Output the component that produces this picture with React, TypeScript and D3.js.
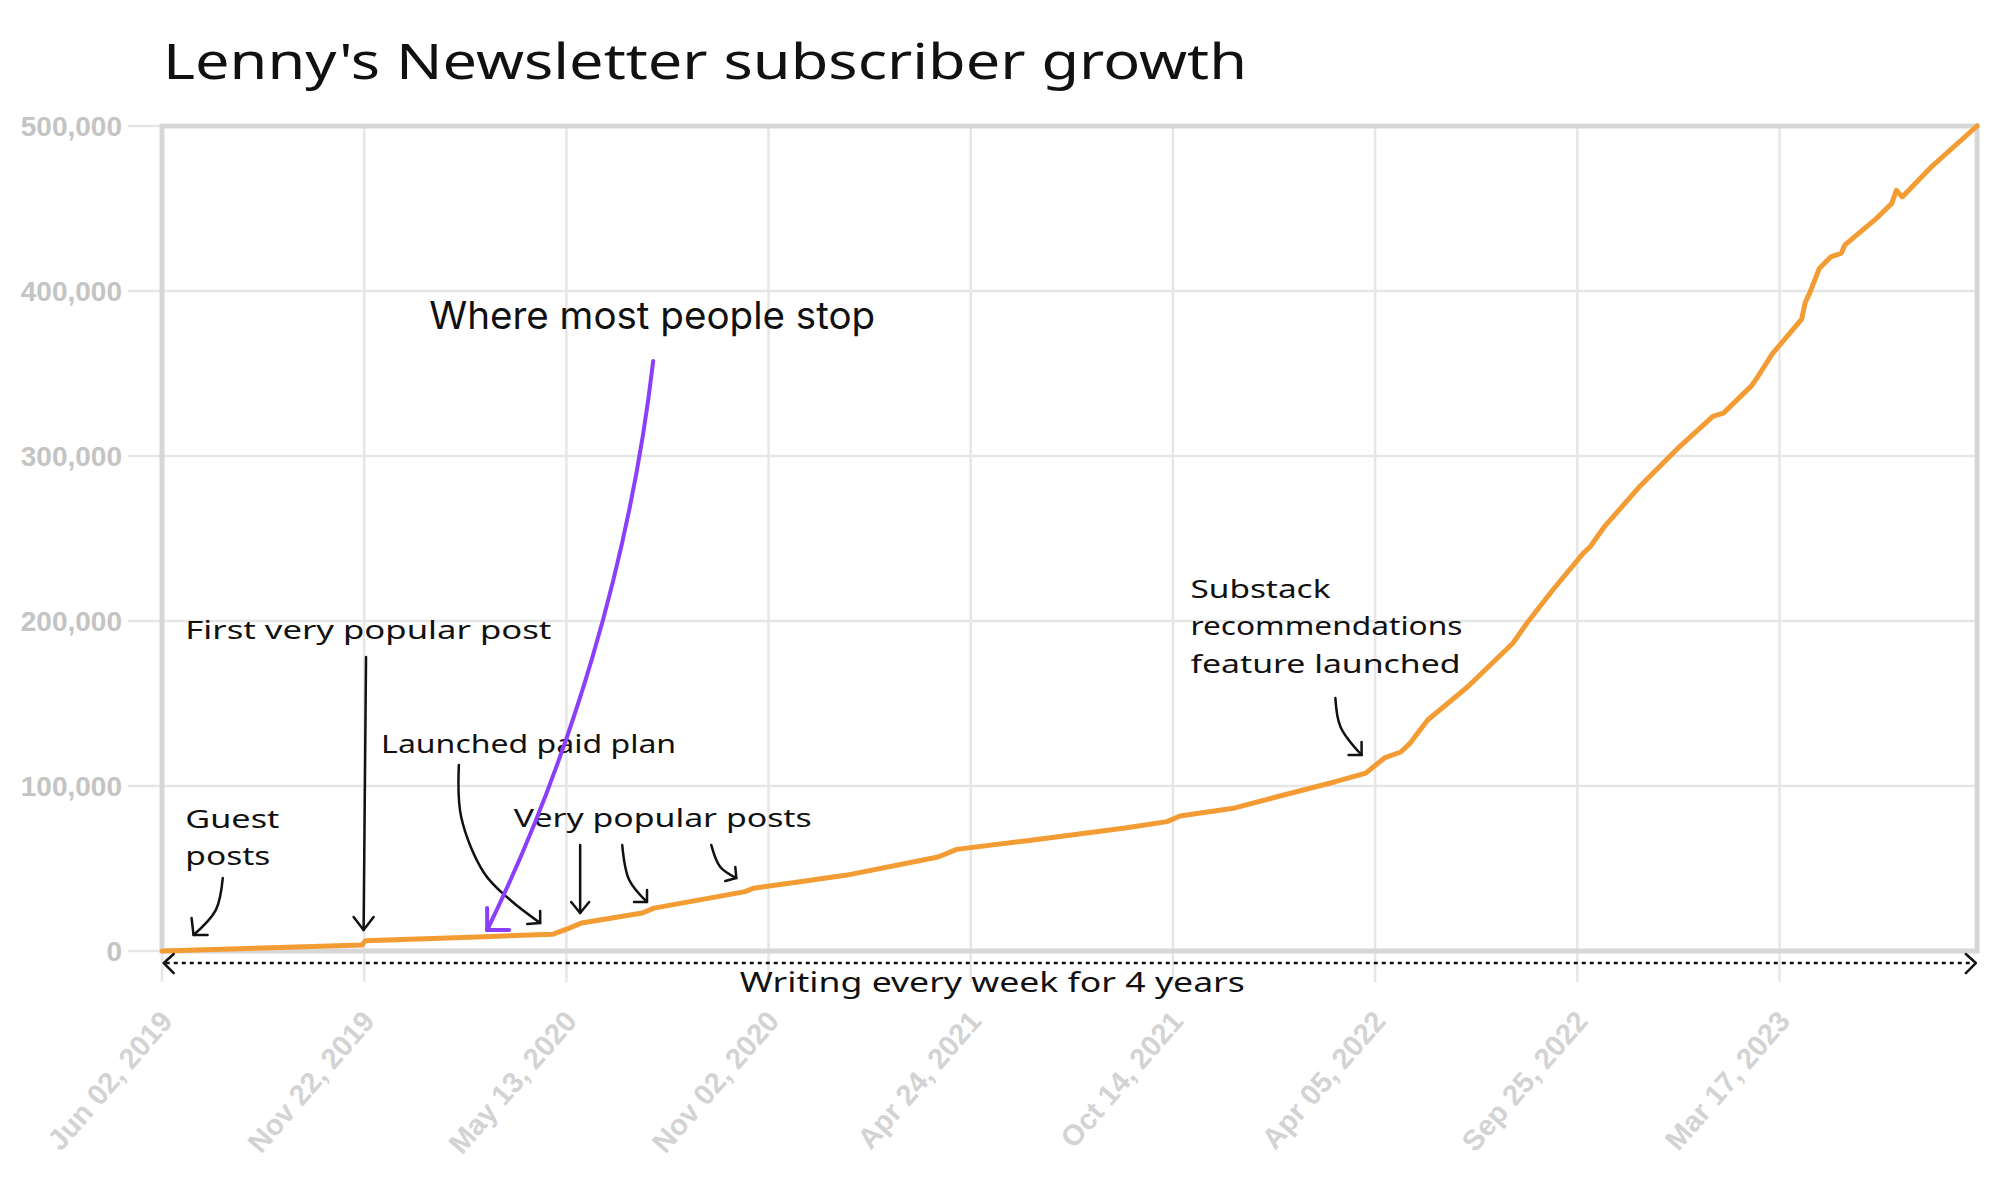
import React from "react";
import * as d3 from "d3";

// ---------- data ----------
const dates = ["2019-06-02","2019-11-20","2019-11-23","2020-03-04","2020-05-01","2020-05-15","2020-05-26","2020-07-17","2020-07-27","2020-10-13","2020-10-20","2020-11-29","2021-01-08","2021-03-27","2021-04-12","2021-06-13","2021-09-03","2021-10-09","2021-10-20","2021-12-06","2022-01-11","2022-03-02","2022-03-28","2022-04-13","2022-04-27","2022-05-05","2022-05-20","2022-06-23","2022-08-01","2022-08-13","2022-09-04","2022-09-30","2022-10-06","2022-10-18","2022-11-18","2022-12-19","2023-01-19","2023-01-28","2023-02-21","2023-02-25","2023-03-11","2023-04-05","2023-04-08","2023-04-12","2023-04-20","2023-04-30","2023-05-09","2023-05-12","2023-06-08","2023-06-21","2023-06-25","2023-06-30","2023-07-24","2023-09-02"];
const subscribers = [0,3600,6200,8700,10100,13700,17000,23000,26000,36000,38000,42000,46000,57000,61600,67000,74500,78400,81800,86700,93500,102600,107800,117000,120600,126000,140000,160000,186700,198800,218800,241000,245000,257000,282000,304000,324000,326000,342500,346500,362000,383000,393000,399000,413600,420700,423000,428000,444000,453000,461000,457000,474600,500000];
const yTickValues = [0, 100000, 200000, 300000, 400000, 500000];
const xTickDates = ["2019-06-02","2019-11-22","2020-05-13","2020-11-02","2021-04-24","2021-10-14","2022-04-05","2022-09-25","2023-03-17"];
const domainStart = "2019-06-02";
const domainEnd = "2023-09-02";

const title = "Lenny's Newsletter subscriber growth";

// annotation anchors in data space: [days since start, subscribers]
const textNotes = [
  { lines: ["Guest", "posts"], day: 20, values: [74500, 52100], widths: [94, 85] },
  { lines: ["First very popular post"], day: 20, values: [189100], widths: [366] },
  { lines: ["Launched paid plan"], day: 187.5, values: [120000], widths: [295] },
  { lines: ["Very popular posts"], day: 301, values: [75200], widths: [298] },
  { lines: ["Substack", "recommendations", "feature launched"], day: 880, values: [213900, 191500, 168500], widths: [140, 272, 270] },
];

const arrowNotes = [
  { pts: [[52, 44200], [46, 24800], [27, 9700]], head: [[-2, -17], [14, 0]] },
  { pts: [[174.6, 178200], [172.5, 12700]], head: [[-10, -13], [10, -13]] },
  { pts: [[254, 112700], [256, 81200], [275.6, 47300], [298, 30900], [323.6, 17000]], head: [[0, -12], [-13, 1]] },
  { pts: [[357.8, 64200], [357.8, 23000]], head: [[-9, -11], [9, -11]] },
  { pts: [[393.8, 64200], [399.8, 43000], [415, 29700]], head: [[0, -12], [-13, 0]] },
  { pts: [[470, 64200], [477.7, 50900], [491.4, 44200]], head: [[-1, -11], [-11, 3]] },
  { pts: [[1004, 153300], [1008.4, 135800], [1026.4, 118800]], head: [[0, -13], [-13, 0]] },
];

const stopNote = { text: "Where most people stop", day: 228.6, value: 377000 };
const stopCurve = [[420.3, 357600], [400.6, 237000], [349.3, 115800], [278.2, 12700]];
const spanNote = { text: "Writing every week for 4 years", startDay: 1.5, endDay: 1552, value: -7300, labelDay: 710.5, labelValue: -24800 };

export default function App() {
  const W = 2000, H = 1190;
  const parse = d3.timeParse("%Y-%m-%d");
  const t0 = parse(domainStart)!;
  const x = d3.scaleTime().domain([t0, parse(domainEnd)!]).range([162, 1977]);
  const y = d3.scaleLinear().domain([0, 500000]).range([951, 126]);
  const dx = (day: number) => x(d3.timeHour.offset(t0, Math.round(day * 24)));
  const fmtDate = d3.timeFormat("%b %d, %Y");
  const fmtNum = d3.format(",");

  const series = dates.map((d, i) => ({ date: parse(d)!, v: subscribers[i] }));
  const line = d3.line<{ date: Date; v: number }>().x(d => x(d.date)).y(d => y(d.v)).curve(d3.curveLinear);

  const annLine = d3.line<number[]>().x(p => dx(p[0])).y(p => y(p[1])).curve(d3.curveCatmullRom.alpha(0.5));

  const hand = "'Comic Sans MS', 'Noto Sans', sans-serif";
  const [x0, x1] = x.range();
  const [yBottom, yTop] = y.range();

  const sc = stopCurve.map(p => [dx(p[0]), y(p[1])]);
  const stopPath = `M${sc[0][0]},${sc[0][1]} C${sc[1][0]},${sc[1][1]} ${sc[2][0]},${sc[2][1]} ${sc[3][0]},${sc[3][1]}`;
  const tip = sc[3];

  const spanY = y(spanNote.value);
  const sx0 = dx(spanNote.startDay), sx1 = dx(spanNote.endDay);

  return (
    <svg width={W} height={H} style={{ position: "absolute", left: 0, top: 0, background: "#fff" }}>
      <rect x={0} y={0} width={W} height={H} fill="#fff" />
      {/* title */}
      <text x={163} y={79} fontFamily={hand} fontSize={50} fill="#111" textLength={1084} lengthAdjust="spacingAndGlyphs">{title}</text>

      {/* horizontal grid */}
      {yTickValues.map(v => (
        <line key={"h" + v} x1={128} x2={x1} y1={y(v)} y2={y(v)} stroke="#e6e6e6" strokeWidth={2.5} />
      ))}
      {/* vertical grid */}
      {xTickDates.map(d => (
        <line key={"v" + d} x1={x(parse(d)!)} x2={x(parse(d)!)} y1={yTop} y2={982} stroke="#e6e6e6" strokeWidth={2.5} />
      ))}
      {/* border */}
      <rect x={x0} y={yTop} width={x1 - x0} height={yBottom - yTop} fill="none" stroke="#d7d7d7" strokeWidth={5} />

      {/* y labels */}
      {yTickValues.map(v => (
        <text key={"yl" + v} x={122} y={y(v)} dy="0.36em" textAnchor="end" fontFamily="'Liberation Sans', Arial, sans-serif" fontWeight="bold" fontSize={28} fill="#c4c4c4">{fmtNum(v)}</text>
      ))}
      {/* x labels */}
      {xTickDates.map(d => (
        <text key={"xl" + d} transform={`translate(${x(parse(d)!) + 12},${1022}) rotate(-49)`} textAnchor="end" fontFamily="'Liberation Sans', Arial, sans-serif" fontWeight="bold" fontSize={29} fill="#d3d3d3">{fmtDate(parse(d)!)}</text>
      ))}

      {/* data line */}
      <path d={line(series)!} fill="none" stroke="#f39c33" strokeWidth={5} strokeLinejoin="round" strokeLinecap="round" />

      {/* text annotations */}
      {textNotes.map((n, i) => n.lines.map((l, j) => (
        <text key={`t${i}-${j}`} x={dx(n.day)} y={y(n.values[j])} fontFamily={hand} fontSize={26} fill="#111" textLength={n.widths[j]} lengthAdjust="spacingAndGlyphs">{l}</text>
      )))}
      {/* black arrows */}
      {arrowNotes.map((a, i) => {
        const end = a.pts[a.pts.length - 1];
        const ex = dx(end[0]), ey = y(end[1]);
        return (
          <g key={"a" + i} fill="none" stroke="#111" strokeWidth={2.5} strokeLinecap="round" strokeLinejoin="round">
            <path d={annLine(a.pts)!} />
            <path d={`M${ex + a.head[0][0]},${ey + a.head[0][1]} L${ex},${ey} L${ex + a.head[1][0]},${ey + a.head[1][1]}`} />
          </g>
        );
      })}

      {/* where most people stop */}
      <text x={dx(stopNote.day)} y={y(stopNote.value)} fontFamily="Inter, 'Noto Sans', sans-serif" fontSize={38} fill="#111" textLength={446} lengthAdjust="spacingAndGlyphs">{stopNote.text}</text>
      <g fill="none" stroke="#8b3ffa" strokeWidth={4} strokeLinecap="round" strokeLinejoin="round">
        <path d={stopPath} />
        <path d={`M${tip[0]},${tip[1] - 22} L${tip[0]},${tip[1]} L${tip[0] + 22},${tip[1]}`} />
      </g>

      {/* span arrow */}
      <g fill="none" stroke="#111" strokeWidth={2.5}>
        <line x1={sx0 + 2} x2={sx1 - 2} y1={spanY} y2={spanY} strokeDasharray="4 4" />
        <path d={`M${sx0 + 10},${spanY - 9} L${sx0},${spanY} L${sx0 + 10},${spanY + 10}`} strokeLinecap="round" strokeLinejoin="round" />
        <path d={`M${sx1 - 10},${spanY - 9} L${sx1},${spanY} L${sx1 - 10},${spanY + 10}`} strokeLinecap="round" strokeLinejoin="round" />
      </g>
      <text x={dx(spanNote.labelDay)} y={y(spanNote.labelValue)} textAnchor="middle" fontFamily={hand} fontSize={28} fill="#111" textLength={505} lengthAdjust="spacingAndGlyphs">{spanNote.text}</text>
    </svg>
  );
}
